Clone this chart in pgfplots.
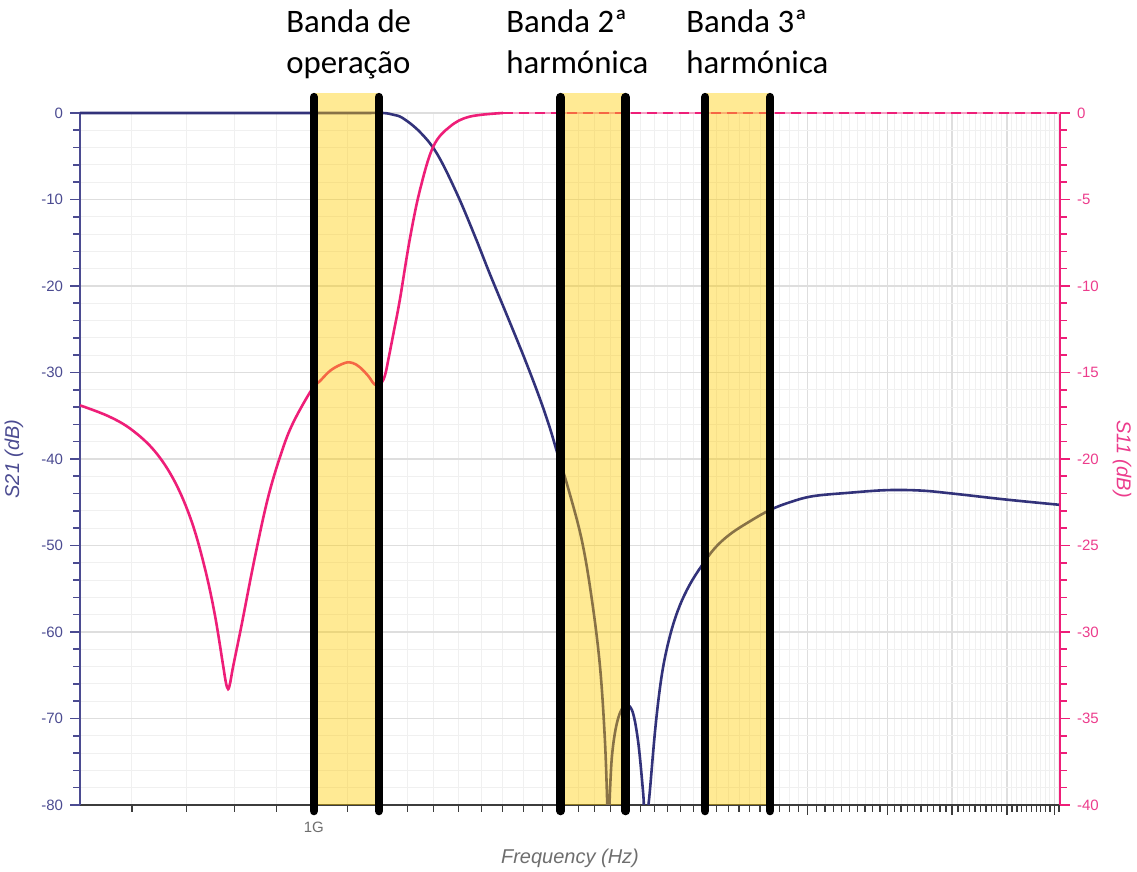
\documentclass[border=0pt]{standalone}
\usepackage{pgfplots}
\pgfplotsset{compat=1.18}
\usepackage{pgfplotstable}
\usepackage{fontspec}
\setmainfont{Liberation Sans}
\newfontfamily\calibri{Carlito}

\definecolor{sbl}{RGB}{50,50,122}
\definecolor{spk}{RGB}{238,30,120}
\definecolor{spklight}{RGB}{246,160,196}
\definecolor{lblue}{RGB}{75,75,145}
\definecolor{lpink}{RGB}{236,60,140}
\definecolor{gmaj}{RGB}{222,222,222}
\definecolor{gmin}{RGB}{240,240,240}
\definecolor{axgray}{RGB}{60,60,60}
\definecolor{txgray}{RGB}{110,110,110}
\definecolor{band}{RGB}{255,204,0}

\pgfplotstableread{
f s21
0.5186 0
0.8 0
1.0 0
1.15 0
1.214 0
1.25 -0.2
1.284 -0.6
1.347 -2.2
1.413 -4.7
1.494 -9.3
1.571 -14.2
1.639 -18.6
1.720 -23.4
1.809 -28.5
1.886 -33.0
1.940 -36.4
1.984 -39.5
2.041 -43.3
2.122 -49.4
2.183 -56.3
2.233 -64.0
2.264 -72.5
2.279 -80
2.286 nan
2.293 -80
2.309 -74.4
2.342 -70.5
2.388 -68.6
2.442 -69.0
2.484 -72.5
2.519 -78.3
2.525 -80
2.540 nan
2.558 -80
2.569 -78.3
2.606 -71.5
2.642 -66.5
2.679 -63.0
2.733 -59.6
2.795 -56.9
2.874 -54.5
2.973 -52.3
3.083 -50.3
3.217 -48.7
3.402 -47.2
3.598 -45.9
3.806 -45.0
4.059 -44.3
4.500 -43.9
4.998 -43.6
5.500 -43.65
6.015 -44.0
7.000 -44.7
8.124 -45.3
}\tabsxxi

\pgfplotstableread{
f s11
0.5186 -16.9
0.5613 -17.52
0.5993 -18.3
0.6398 -19.55
0.6766 -21.3
0.7094 -23.6
0.7363 -26.3
0.7573 -29.0
0.7750 -31.9
0.7810 -32.9
0.7861 -33.3
0.7910 -32.9
0.7973 -32.0
0.8163 -29.6
0.8472 -25.7
0.8796 -22.2
0.9134 -19.6
0.9436 -17.9
0.9936 -16.0
1.017 -15.5
1.050 -14.85
1.091 -14.45
1.115 -14.45
1.138 -14.7
1.165 -15.2
1.187 -15.7
1.209 -15.6
1.222 -15.1
1.232 -14.3
1.252 -12.6
1.273 -10.8
1.309 -7.3
1.347 -4.45
1.398 -1.95
1.465 -0.79
1.549 -0.21
1.700 0
}\tabsxi

\begin{document}
\begin{tikzpicture}
\useasboundingbox (-40pt,-33.5pt) rectangle (528.5pt,402.5pt);
\begin{axis}[
  at={(0,0)}, anchor=south west, scale only axis, width=490pt, height=346pt,
  xmode=log, xmin=0.5186, xmax=8.124, ymin=-80, ymax=0,
  axis x line*=bottom, axis y line*=left,
  x axis line style={axgray, line width=0.9pt, -},
  y axis line style={lblue, line width=1pt, -},
  xtick={1,2,3,4,5,6,7,8},
  xticklabels={1G,{},{},{},{},{},{},{}},
  minor xtick={0.6,0.7,0.8,0.9,1.1,1.2,1.3,1.4,1.5,1.6,1.7,1.8,1.9,2.1,2.2,2.3,2.4,2.5,2.6,2.7,2.8,2.9,3.1,3.2,3.3,3.4,3.5,3.6,3.7,3.8,3.9,4.1,4.2,4.3,4.4,4.5,4.6,4.7,4.8,4.9,5.1,5.2,5.3,5.4,5.5,5.6,5.7,5.8,5.9,6.1,6.2,6.3,6.4,6.5,6.6,6.7,6.8,6.9,7.1,7.2,7.3,7.4,7.5,7.6,7.7,7.8,7.9,8.0,8.1},
  ytick={-80,-70,-60,-50,-40,-30,-20,-10,0},
  minor ytick={-78,-76,-74,-72,-68,-66,-64,-62,-58,-56,-54,-52,-48,-46,-44,-42,-38,-36,-34,-32,-28,-26,-24,-22,-18,-16,-14,-12,-8,-6,-4,-2},
  tick align=outside, major tick length=5pt, minor tick length=3.5pt,
  xtick style={axgray, line width=0.6pt},
  ytick style={lblue, line width=0.8pt},
  grid=both,
  major grid style={gmaj, line width=0.6pt},
  minor grid style={gmin, line width=0.5pt},
  tick label style={font=\fontsize{7.5}{9}\selectfont},
  xticklabel style={txgray},
  yticklabel style={lblue},
  /pgf/number format/assume math mode=true,
  xlabel={Frequency (Hz)},
  xlabel style={font=\itshape\fontsize{10}{12}\selectfont, txgray, at={(rel axis cs:0.5,-0.0766)}, anchor=center},
  ylabel={S21 (dB)},
  ylabel style={font=\itshape\fontsize{10}{12}\selectfont, lblue, at={(rel axis cs:-0.0673,0.5)}, anchor=center},
  clip=false, unbounded coords=jump,
]
\addplot[sbl, line width=1.3pt, smooth, tension=0.6] table[x=f, y=s21] {\tabsxxi};
\end{axis}

\begin{axis}[
  at={(0,0)}, anchor=south west, scale only axis, width=490pt, height=346pt,
  xmode=log, xmin=0.5186, xmax=8.124, ymin=-40, ymax=0,
  axis y line*=right, hide x axis,
  y axis line style={spk, line width=1pt, -},
  ytick={-40,-35,-30,-25,-20,-15,-10,-5,0},
  minor ytick={-39,-38,-37,-36,-34,-33,-32,-31,-29,-28,-27,-26,-24,-23,-22,-21,-19,-18,-17,-16,-14,-13,-12,-11,-9,-8,-7,-6,-4,-3,-2,-1},
  tick align=outside, major tick length=5pt, minor tick length=3.5pt,
  ytick style={spk, line width=0.8pt},
  tick label style={font=\fontsize{7.5}{9}\selectfont},
  yticklabel style={lpink},
  /pgf/number format/assume math mode=true,
  ylabel={S11 (dB)},
  ylabel style={font=\itshape\fontsize{10}{12}\selectfont, lpink, at={(rel axis cs:1.0633,0.5)}, anchor=center, rotate=180},
  clip=false,
]
\addplot[spk, line width=1.3pt, smooth, tension=0.6] table[x=f, y=s11] {\tabsxi};
\addplot[spklight, line width=1.3pt] coordinates {(1.70,0) (8.124,0)};
\addplot[spk, line width=1.3pt, dash pattern=on 5pt off 3pt] coordinates {(1.70,0) (8.124,0)};
% bands
\addplot[draw=none, fill=band, fill opacity=0.42] coordinates {(1.0,-40) (1.0,1.156) (1.2,1.156) (1.2,-40)} -- cycle;
\addplot[draw=none, fill=band, fill opacity=0.42] coordinates {(2.0,-40) (2.0,1.156) (2.4,1.156) (2.4,-40)} -- cycle;
\addplot[draw=none, fill=band, fill opacity=0.42] coordinates {(3.0,-40) (3.0,1.156) (3.6,1.156) (3.6,-40)} -- cycle;
\addplot[black, line width=4.25pt, line cap=round] coordinates {(1.0,0.92) (1.0,-40.35)};
\addplot[black, line width=4.25pt, line cap=round] coordinates {(1.2,0.92) (1.2,-40.35)};
\addplot[black, line width=4.25pt, line cap=round] coordinates {(2.0,0.92) (2.0,-40.35)};
\addplot[black, line width=4.25pt, line cap=round] coordinates {(2.4,0.92) (2.4,-40.35)};
\addplot[black, line width=4.25pt, line cap=round] coordinates {(3.0,0.92) (3.0,-40.35)};
\addplot[black, line width=4.25pt, line cap=round] coordinates {(3.6,0.92) (3.6,-40.35)};
\end{axis}

\begin{scope}[every node/.style={anchor=base west, inner sep=0pt, font=\calibri\fontsize{16.4}{20}\selectfont}]
\node at (103pt,386pt) {Banda de};
\node at (103pt,365.5pt) {operação};
\node at (213pt,386pt) {Banda 2ª};
\node at (213pt,365.5pt) {harmónica};
\node at (303pt,386pt) {Banda 3ª};
\node at (303pt,365.5pt) {harmónica};
\end{scope}
\end{tikzpicture}
\end{document}
